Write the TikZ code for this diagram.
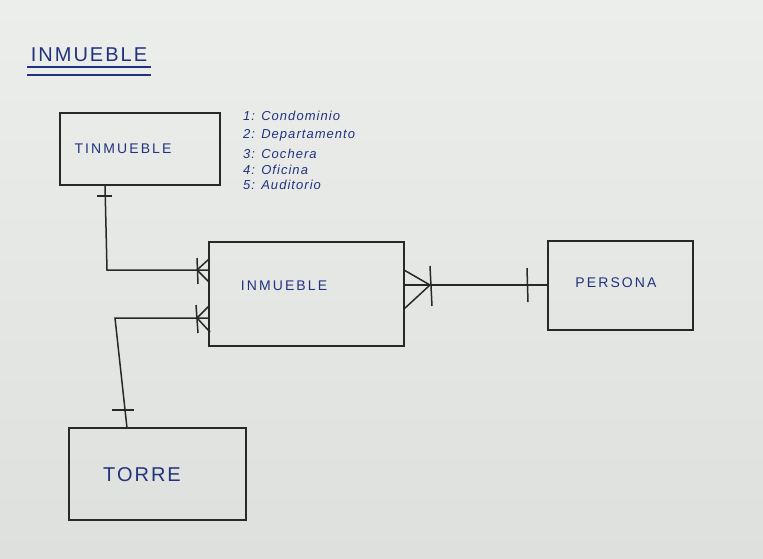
\documentclass[tikz,border=0pt]{standalone}
\usepackage{fontspec}
\setmainfont{Liberation Sans}
\definecolor{board}{RGB}{222,224,222}
\definecolor{boardtop}{RGB}{236,238,236}
\definecolor{ink}{RGB}{40,40,40}
\definecolor{bink}{RGB}{35,50,125}
\begin{document}
\begin{tikzpicture}[x=1pt,y=-1pt,
  ent/.style={draw=ink,line width=1.4pt},
  conn/.style={draw=ink,line width=1.5pt},
  lbl/.style={text=bink,font=\fontsize{14}{14}\selectfont\addfontfeature{LetterSpace=15}},
  lst/.style={text=bink,font=\itshape\fontsize{13}{13}\selectfont\addfontfeature{LetterSpace=8},anchor=west,inner sep=0pt}]
\shade[top color=boardtop,bottom color=board] (0,0) rectangle (763,558);
\useasboundingbox (0,0) rectangle (763,558);
% title
\node[lbl,font=\fontsize{20}{20}\selectfont\addfontfeature{LetterSpace=10}] (title) at (89,55) {INMUEBLE};
\draw[draw=bink,line width=1.3pt] (27,67) -- (151,67);
\draw[draw=bink,line width=1.3pt] (27,75) -- (151,75);
% entities
\node[ent,minimum width=160pt,minimum height=72pt] (tin) at (140,149) {};
\node[lbl] at (123,149) {TINMUEBLE};
\node[ent,minimum width=195pt,minimum height=104pt] (inm) at (306.5,294) {};
\node[lbl] at (284,286) {INMUEBLE};
\node[ent,minimum width=145pt,minimum height=89pt] (per) at (620.5,285.5) {};
\node[lbl] at (616,283) {PERSONA};
\node[ent,minimum width=177pt,minimum height=92pt] (tor) at (157.5,474) {};
\node[lbl,font=\fontsize{20}{20}\selectfont\addfontfeature{LetterSpace=10}] at (142,475) {TORRE};
% list
\node[lst] (l1) at (243,116) {1: Condominio};
\node[lst] (l2) at (243,135) {2: Departamento};
\node[lst] (l3) at (243,154) {3: Cochera};
\node[lst] (l4) at (243,170) {4: Oficina};
\node[lst] (l5) at (243,185) {5: Auditorio};
% TINMUEBLE -- INMUEBLE
\coordinate (a1) at (105,185);
\coordinate (a2) at (107,270);
\coordinate (a3) at (209,270);
\draw[conn] (a1) -- (a2) -- (a3);
\draw[conn] (97,196) -- (112,196);
\draw[conn] (197,258) -- (198,284);
\draw[conn] (197,270) -- (209,259);
\draw[conn] (197,270) -- (209,282);
% TORRE -- INMUEBLE
\coordinate (b1) at (127,428);
\coordinate (b2) at (115,318);
\coordinate (b3) at (209,318);
\draw[conn] (b1) -- (b2) -- (b3);
\draw[conn] (112,410) -- (134,410);
\draw[conn] (196,305) -- (198,333);
\draw[conn] (197,318) -- (209,306);
\draw[conn] (197,318) -- (210,332);
% INMUEBLE -- PERSONA
\coordinate (c1) at (404,285);
\coordinate (c2) at (548,285);
\draw[conn] (c1) -- (c2);
\draw[conn] (430,266) -- (432,306);
\draw[conn] (430,285) -- (404,270);
\draw[conn] (430,285) -- (404,309);
\draw[conn] (527,268) -- (528,302);
\end{tikzpicture}
\end{document}
